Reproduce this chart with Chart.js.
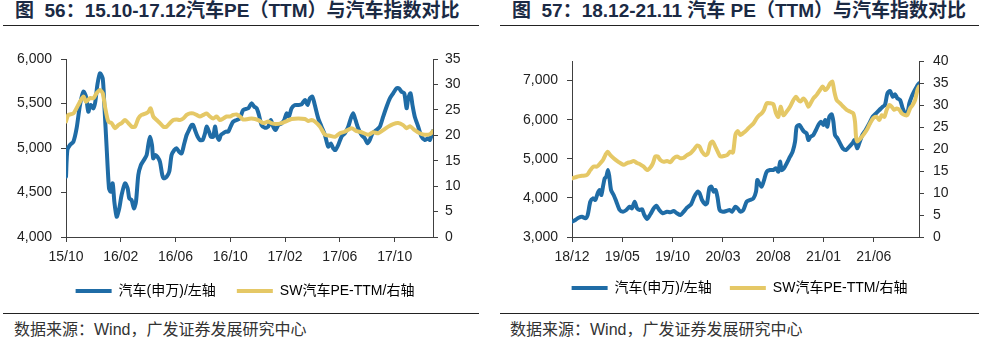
<!DOCTYPE html>
<html><head><meta charset="utf-8">
<script src="https://cdn.jsdelivr.net/npm/chart.js@4.4.1/dist/chart.umd.min.js"></script>
<style>
html,body{margin:0;padding:0;background:#fff;}
body{width:984px;height:351px;position:relative;overflow:hidden;font-family:"Liberation Sans","Noto Sans CJK SC",sans-serif;}
.title{position:absolute;top:0;font-weight:bold;font-size:19px;color:#1b2a44;white-space:nowrap;line-height:22px;}
.rule{position:absolute;height:1px;background:#222;}
.src{position:absolute;top:320px;font-size:16px;color:#333;white-space:nowrap;line-height:20px;}
.box{position:absolute;top:40px;height:272px;}
canvas{display:block;}
</style></head>
<body>
<div class="title" style="left:15px">图&nbsp;&nbsp;56：15.10-17.12汽车PE（TTM）与汽车指数对比</div>
<div class="rule" style="left:3px;width:476px;top:25px"></div>
<div class="box" style="left:0;width:490px"><canvas id="c56" width="490" height="272"></canvas></div>
<div class="rule" style="left:3px;width:476px;top:313px"></div>
<div class="src" style="left:14px">数据来源：Wind，广发证券发展研究中心</div>

<div class="title" style="left:512px">图&nbsp;&nbsp;57：18.12-21.11 汽车 PE（TTM）与汽车指数对比</div>
<div class="rule" style="left:500px;width:479px;top:25px"></div>
<div class="box" style="left:495px;width:489px"><canvas id="c57" width="489" height="272"></canvas></div>
<div class="rule" style="left:500px;width:479px;top:313px"></div>
<div class="src" style="left:510px">数据来源：Wind，广发证券发展研究中心</div>

<script>
// ---------- Chart 56 data (x = months since 2015/10) ----------
const c56TickMonths = [0, 4, 8, 12, 16, 20, 24];
const c56TickLabels = ['15/10', '16/02', '16/06', '16/10', '17/02', '17/06', '17/10'];
const c56LeftTicks = [4000, 4500, 5000, 5500, 6000];
const c56RightTicks = [0, 5, 10, 15, 20, 25, 30, 35];
const c56IndexMonths = [0,0.1,0.29,0.54,0.78,1.02,1.27,1.46,1.63,1.8,2,2.14,2.29,2.48,2.68,2.8,2.97,3.14,3.26,3.41,3.53,3.7,3.89,4.06,4.31,4.5,4.62,4.79,4.96,5.11,5.28,5.47,5.69,5.89,6.01,6.13,6.28,6.37,6.52,6.67,6.86,7.03,7.15,7.35,7.54,7.71,7.91,8.08,8.25,8.44,8.61,8.81,8.98,9.17,9.29,9.42,9.61,9.78,9.98,10.15,10.27,10.44,10.58,10.75,10.88,11,11.17,11.31,11.48,11.68,11.85,12.02,12.21,12.46,12.7,12.94,13.31,13.55,13.75,13.92,14.09,14.28,14.53,14.77,14.96,15.13,15.3,15.5,15.74,15.94,16.11,16.28,16.47,16.72,16.96,17.2,17.45,17.64,17.81,17.99,18.17,18.42,18.66,18.91,19.15,19.34,19.51,19.68,19.88,20.12,20.36,20.61,20.8,20.97,21.14,21.34,21.58,21.82,22.02,22.19,22.38,22.68,22.92,23.16,23.41,23.65,23.89,24.14,24.31,24.5,24.7,24.87,24.99,25.16,25.3,25.47,25.72,25.96,26.2,26.45,26.57,26.74,26.8];
const c56IndexValues = [4678,4978,5034,5071,5225,5483,5633,5576,5408,5483,5446,5520,5708,5839,5783,5483,4997,4547,4509,4603,4397,4228,4322,4472,4603,4547,4435,4416,4322,4397,4697,4809,4865,4921,5034,5127,5034,4884,4921,4902,4846,4697,4659,4678,4734,4921,4978,4997,4959,4940,5034,5146,5202,5258,5258,5202,5127,5090,5090,5165,5240,5184,5127,5127,5240,5146,5090,5146,5165,5184,5184,5240,5296,5315,5333,5427,5446,5502,5464,5446,5371,5258,5228,5240,5315,5240,5202,5258,5277,5315,5390,5352,5446,5483,5483,5490,5539,5483,5558,5576,5483,5333,5240,5146,5015,5052,4997,4978,5034,5127,5165,5240,5333,5390,5315,5221,5146,5109,5052,5090,5165,5202,5240,5352,5464,5558,5615,5671,5671,5633,5615,5446,5558,5615,5483,5352,5240,5127,5090,5109,5090,5165,5191];
const c56PeMonths = [0,0.17,0.54,0.9,1.27,1.46,1.75,2,2.24,2.48,2.68,2.85,3.09,3.33,3.58,3.82,4.06,4.31,4.55,4.79,5.04,5.28,5.52,5.84,6.01,6.18,6.37,6.62,6.86,7.1,7.35,7.59,7.83,8.08,8.32,8.56,8.81,9.05,9.29,9.54,9.78,10.02,10.27,10.51,10.75,11,11.24,11.48,11.73,11.97,12.21,12.46,12.7,12.94,13.3,13.55,14.04,14.4,14.77,14.99,15.38,15.74,16.11,16.47,16.96,17.45,17.69,17.93,18.17,18.54,18.91,19.27,19.64,20,20.36,20.85,21.22,21.58,22.07,22.43,22.8,23.16,23.53,23.89,24.26,24.62,24.87,25.11,25.47,25.84,26.2,26.57,26.8];
const c56PeValues = [22.7,24.0,24.3,26.0,27.6,26.6,27.3,27.3,28.3,28.9,28.3,25.6,22.7,22.4,21.4,22.0,22.4,23.0,22.4,21.7,21.7,23.3,24.0,24.3,24.6,25.3,23.7,23.0,22.4,21.7,21.7,22.4,23.0,23.1,23.0,23.3,24.0,24.3,24.3,24.0,23.7,24.0,24.3,23.7,23.3,23.7,23.0,23.3,23.7,23.7,24.0,24.1,23.7,23.1,23.2,23.3,23.0,22.4,22.7,22.4,22.2,22.4,22.8,23.2,23.3,23.2,22.8,23.0,22.7,21.7,20.1,19.9,19.7,20.4,20.7,21.4,20.8,20.6,20.1,20.6,20.4,21.0,21.7,22.2,22.4,22.0,21.4,21.8,21.0,20.4,20.1,20.2,20.8];

// ---------- Chart 57 data (x = months since 2018/12) ----------
const c57TickMonths = [0, 5, 10, 15, 20, 25, 30];
const c57TickLabels = ['18/12', '19/05', '19/10', '20/03', '20/08', '21/01', '21/06'];
const c57LeftTicks = [3000, 4000, 5000, 6000, 7000];
const c57RightTicks = [0, 5, 10, 15, 20, 25, 30, 35, 40];
const c57IndexMonths = [0,0.33,0.66,0.99,1.33,1.56,1.82,2.09,2.32,2.55,2.75,2.92,3.08,3.25,3.41,3.58,3.71,3.88,4.14,4.41,4.74,5.07,5.4,5.73,5.96,6.23,6.46,6.73,6.96,7.19,7.46,7.79,8.12,8.38,8.68,9.01,9.44,9.77,10.11,10.44,10.77,11.1,11.43,11.83,12.16,12.49,12.69,12.92,13.25,13.42,13.65,13.85,14.08,14.28,14.48,14.68,15.01,15.34,15.67,15.9,16.24,16.47,16.73,17.03,17.36,17.69,18.03,18.29,18.42,18.62,18.85,19.09,19.35,19.68,20.01,20.28,20.51,20.68,20.84,21.07,21.34,21.67,21.93,22.17,22.33,22.6,22.83,23.06,23.32,23.49,23.72,23.99,24.25,24.49,24.75,25,25.18,25.38,25.58,25.81,25.98,26.14,26.38,26.64,26.91,27.24,27.57,27.87,28.1,28.34,28.6,28.86,29.19,29.56,29.89,30.22,30.55,30.88,31.11,31.35,31.61,31.88,32.11,32.34,32.61,32.87,33.1,33.33,33.53,33.76,33.99,34.26,34.49];
const c57IndexValues = [3391,3435,3494,3520,3477,3563,3903,3989,3946,4117,4202,4074,4287,4501,4542,4713,4542,4202,4074,3903,3690,3647,3690,3775,3733,3903,3733,3690,3711,3563,3460,3580,3733,3801,3690,3606,3647,3631,3664,3606,3563,3647,3750,3835,4031,4159,4117,3946,3835,3860,4245,4287,4159,4202,3989,3690,3647,3664,3690,3647,3775,3733,3647,3690,3903,3946,3989,4159,4457,4372,4287,4457,4670,4713,4713,4756,4670,4926,4713,4756,4884,5053,5181,5437,5820,5864,5779,5693,5650,5480,5565,5608,5736,5864,5949,5864,5992,5820,6077,6137,5949,5608,5523,5395,5268,5225,5310,5395,5480,5268,5437,5608,5736,5907,6077,6163,6247,6332,6375,6674,6733,6587,6648,6546,6502,6290,6163,6163,6418,6587,6715,6843,6929];
const c57PeMonths = [0,0.5,0.99,1.49,1.82,2.15,2.49,2.82,3.08,3.31,3.55,3.81,4.14,4.47,4.8,5.14,5.47,5.8,6.13,6.46,6.79,7.12,7.46,7.79,8.05,8.28,8.52,8.78,9.11,9.44,9.77,10.11,10.44,10.77,11.1,11.43,11.76,12.09,12.43,12.69,12.92,13.25,13.49,13.75,13.98,14.25,14.48,14.74,15.08,15.41,15.74,16,16.24,16.47,16.73,17,17.36,17.69,18.03,18.36,18.62,18.85,19.09,19.35,19.68,20.01,20.28,20.51,20.74,21.01,21.34,21.67,22,22.27,22.5,22.73,23,23.26,23.49,23.72,23.99,24.32,24.65,24.92,25.15,25.38,25.65,25.88,26.08,26.31,26.64,26.97,27.3,27.63,27.96,28.13,28.23,28.36,28.63,28.96,29.29,29.62,29.95,30.28,30.55,30.78,31.05,31.28,31.55,31.78,32.01,32.28,32.54,32.77,33.1,33.33,33.6,33.86,34.1,34.33,34.49];
const c57PeValues = [13.3,13.7,13.9,14.1,15.2,16.0,16.0,16.8,17.5,18.6,19.4,18.6,17.9,17.3,16.8,16.4,16.8,17.0,17.3,16.8,16.5,16.0,15.2,15.8,16.8,18.3,18.3,17.5,17.1,17.3,17.0,17.9,18.3,17.9,18.0,18.6,19.0,19.8,20.8,20.5,19.4,18.6,19.0,21.3,21.7,20.5,19.4,18.3,18.4,18.6,19.4,19.2,23.2,24.1,23.2,23.6,24.3,25.1,25.8,27.0,27.7,28.1,28.9,30.4,30.4,30.2,28.1,27.3,29.6,27.7,28.5,29.6,31.1,31.9,31.1,30.8,31.5,30.8,29.6,30.4,31.5,32.3,33.4,34.2,33.4,33.8,34.9,35.3,33.0,31.1,30.4,29.6,28.9,28.5,28.1,26.2,22.8,21.7,22.3,23.2,24.3,25.8,27.0,27.3,26.6,27.7,27.3,28.9,30.0,29.6,28.9,29.2,28.9,28.1,27.7,27.7,29.2,30.0,31.1,33.4,34.2];

const BLUE = '#1F6CA6';
const YELLOW = '#E5C866';
const AXIS = '#404040';
const TXT = '#222222';
const FAMILY = '"Liberation Sans","Noto Sans CJK SC",sans-serif';
const LABEL_INDEX = '汽车(申万)/左轴';
const LABEL_PE = 'SW汽车PE-TTM/右轴';

function fmt(v) { return String(v).replace(/\B(?=(\d{3})+(?!\d))/g, ','); }
function pts(xs, ys) { return xs.map((x, i) => ({ x: x, y: ys[i] })); }

function makeChart(id, c) {
  const tickFont = { family: FAMILY, size: 14 };
  const axisGrid = { display: true, drawOnChartArea: false, drawTicks: true, tickLength: 5, color: AXIS, lineWidth: 1 };
  new Chart(document.getElementById(id), {
    type: 'line',
    data: {
      datasets: [
        { label: LABEL_INDEX, data: pts(c.idxM, c.idxV), yAxisID: 'yL', borderColor: BLUE, backgroundColor: BLUE,
          borderWidth: 4, pointRadius: 0, tension: 0.25, order: 1, borderJoinStyle: 'round', borderCapStyle: 'round' },
        { label: LABEL_PE, data: pts(c.peM, c.peV), yAxisID: 'yR', borderColor: YELLOW, backgroundColor: YELLOW,
          borderWidth: 4, pointRadius: 0, tension: 0.25, order: 0, borderJoinStyle: 'round', borderCapStyle: 'round' }
      ]
    },
    options: {
      responsive: false, animation: false, devicePixelRatio: 1,
      layout: { padding: { top: c.padTop, bottom: c.padBottom, left: 0, right: 0 } },
      plugins: {
        tooltip: { enabled: false },
        legend: {
          position: 'bottom',
          labels: {
            boxWidth: 36, boxHeight: 4, padding: c.legPad, color: TXT, font: { family: FAMILY, size: 14 },
            sort: (a, b) => a.datasetIndex - b.datasetIndex,
            generateLabels: ch => ch.data.datasets.map((d, i) => ({
              text: d.label, fillStyle: d.borderColor, strokeStyle: d.borderColor, lineWidth: 0, hidden: false, datasetIndex: i }))
          }
        }
      },
      scales: {
        x: {
          type: 'linear', min: 0, max: c.xMax, bounds: 'data',
          afterBuildTicks: s => { s.ticks = c.tickM.map(v => ({ value: v })); },
          afterFit: s => { s.height = c.xHeight; },
          ticks: { callback: (v, i) => c.tickL[i], font: tickFont, color: TXT, padding: 7, maxRotation: 0, autoSkip: false },
          grid: axisGrid, border: { color: AXIS, width: 1 }
        },
        yL: {
          type: 'linear', position: 'left', min: c.lMin, max: c.lMax, bounds: 'data',
          afterBuildTicks: s => { s.ticks = c.lTicks.map(v => ({ value: v })); },
          afterFit: s => { s.width = c.lWidth; },
          ticks: { callback: v => fmt(v), font: tickFont, color: TXT, padding: 9 },
          grid: axisGrid, border: { color: AXIS, width: 1 }
        },
        yR: {
          type: 'linear', position: 'right', min: c.rMin, max: c.rMax, bounds: 'data',
          afterBuildTicks: s => { s.ticks = c.rTicks.map(v => ({ value: v })); },
          afterFit: s => { s.width = c.rWidth; },
          ticks: { callback: v => String(v), font: tickFont, color: TXT, padding: c.rPad },
          grid: axisGrid, border: { color: AXIS, width: 1 }
        }
      }
    }
  });
}

makeChart('c56', {
  idxM: c56IndexMonths, idxV: c56IndexValues, peM: c56PeMonths, peV: c56PeValues,
  tickM: c56TickMonths, tickL: c56TickLabels, lTicks: c56LeftTicks, rTicks: c56RightTicks,
  xMax: 26.8, lMin: 4000, lMax: 6000, rMin: 0, rMax: 35,
  padTop: 19, padBottom: 4, xHeight: 26, legPad: 21, lWidth: 66, rWidth: 57, rPad: 7
});
makeChart('c57', {
  idxM: c57IndexMonths, idxV: c57IndexValues, peM: c57PeMonths, peV: c57PeValues,
  tickM: c57TickMonths, tickL: c57TickLabels, lTicks: c57LeftTicks, rTicks: c57RightTicks,
  xMax: 34.49, lMin: 3000, lMax: 7500, rMin: 0, rMax: 40,
  padTop: 21, padBottom: 7, xHeight: 26, legPad: 18, lWidth: 77, rWidth: 65, rPad: 9
});
</script>
</body></html>
